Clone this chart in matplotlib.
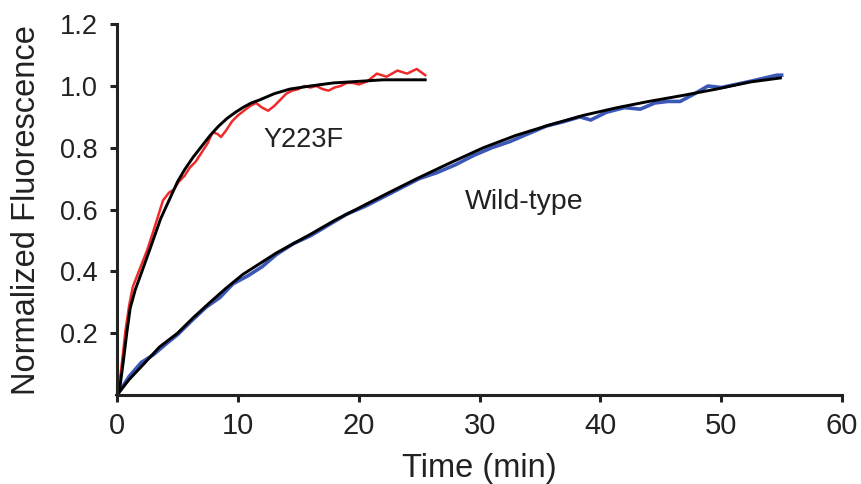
import matplotlib.pyplot as plt

plt.rcParams['font.family'] = ['Liberation Sans', 'DejaVu Sans']

# Y223F mutant, raw trace (min, normalized)
y223f_t = [0, 0.3, 0.5, 0.7, 1.0, 1.3, 1.7, 2.1, 2.5, 3.0, 3.4, 3.8, 4.3, 4.7, 5.1, 5.6,
           6.0, 6.5, 7.0, 7.5, 7.9, 8.3, 8.6, 9.0, 9.5, 10.0, 10.5, 11.0, 11.5, 12.0,
           12.5, 13.0, 13.5, 14.0, 14.5, 15.0, 15.5, 16.0, 16.5, 17.0, 17.5, 18.0,
           18.5, 19.0, 19.5, 20.0, 20.7, 21.5, 22.3, 23.2, 24.0, 24.8, 25.5]
y223f_y = [0, 0.07, 0.14, 0.21, 0.29, 0.35, 0.39, 0.43, 0.47, 0.53, 0.58, 0.63, 0.655, 0.665,
           0.69, 0.71, 0.735, 0.755, 0.785, 0.815, 0.85, 0.845, 0.835, 0.855, 0.885,
           0.905, 0.92, 0.935, 0.945, 0.93, 0.92, 0.935, 0.955, 0.975, 0.985, 0.99, 1.0,
           0.995, 1.0, 0.99, 0.985, 0.995, 1.0, 1.01, 1.01, 1.005, 1.015, 1.04, 1.03,
           1.05, 1.04, 1.055, 1.035]

# Y223F fit
y223f_fit_t = [0, 0.25, 0.52, 0.8, 1.08, 1.5, 2.15, 2.7, 3.6, 4.3, 5.0, 5.6, 6.3, 7.0, 7.7,
               8.4, 9.1, 9.8, 10.4, 11.1, 11.8, 13.0, 14.3, 16.0, 17.9, 20.0, 22.0, 25.5]
y223f_fit_y = [0, 0.03, 0.11, 0.20, 0.28, 0.34, 0.41, 0.47, 0.57, 0.63, 0.69, 0.73, 0.77,
               0.805, 0.84, 0.87, 0.895, 0.915, 0.93, 0.945, 0.955, 0.975, 0.99, 1.0,
               1.01, 1.015, 1.02, 1.02]

# wild-type, raw trace
wt_t = [0, 1.0, 2.0, 3.0, 4.2, 5.0, 6.3, 7.4, 8.5, 9.6, 10.8, 12.0, 13.2, 14.6, 16.0,
        17.5, 19.0, 20.5, 22.0, 23.5, 25.0, 26.5, 28.0, 29.5, 31.0, 32.5, 34.0, 35.5,
        37.0, 38.3, 39.2, 40.5, 42.0, 43.3, 44.5, 45.6, 46.6, 47.8, 48.9, 50.0, 51.2,
        52.4, 53.5, 54.6, 55.0]
wt_y = [0, 0.06, 0.105, 0.13, 0.17, 0.195, 0.245, 0.285, 0.315, 0.36, 0.385, 0.415, 0.455,
        0.49, 0.515, 0.55, 0.585, 0.61, 0.64, 0.67, 0.70, 0.72, 0.745, 0.775, 0.80, 0.82,
        0.845, 0.87, 0.885, 0.90, 0.89, 0.915, 0.93, 0.925, 0.945, 0.95, 0.95, 0.975,
        1.0, 0.995, 1.005, 1.015, 1.025, 1.035, 1.035]

# wild-type fit
wt_fit_t = [0, 1.0, 2.2, 3.5, 5.0, 6.3, 7.7, 9.0, 10.4, 11.8, 13.2, 14.6, 16.0, 18.0, 20.0,
            22.5, 24.8, 27.5, 30.3, 33.0, 35.8, 38.6, 41.4, 44.0, 46.9, 49.6, 52.4, 54.9]
wt_fit_y = [0, 0.05, 0.10, 0.155, 0.20, 0.25, 0.30, 0.345, 0.39, 0.425, 0.46, 0.49, 0.52,
            0.565, 0.605, 0.655, 0.70, 0.75, 0.80, 0.84, 0.874, 0.905, 0.93, 0.95, 0.97,
            0.99, 1.013, 1.026]

xticks = [0, 10, 20, 30, 40, 50, 60]
yticks = [0.2, 0.4, 0.6, 0.8, 1.0, 1.2]

fig = plt.figure(figsize=(8.61, 4.84), dpi=100)
ax = fig.add_axes([0.136, 0.184, 0.842, 0.766])

ax.plot(wt_t, wt_y, color='#3b58b8', lw=2.6, clip_on=False)
ax.plot(y223f_t, y223f_y, color='#ee2a2a', lw=1.8, clip_on=False)
ax.plot(wt_fit_t, wt_fit_y, color='black', lw=2.1, clip_on=False)
ax.plot(y223f_fit_t, y223f_fit_y, color='black', lw=2.1, clip_on=False)

ax.text(12.1, 0.825, 'Y223F', fontsize=19.5, va='center', ha='left', color='#222222')
ax.text(28.8, 0.625, 'Wild-type', fontsize=20.5, va='center', ha='left', color='#222222')

ax.set_xlim(0, 60)
ax.set_ylim(0, 1.2)
ax.set_xticks(xticks)
ax.set_yticks(yticks)
ax.set_yticklabels([f'{v:.1f}' for v in yticks])

for s in ['top', 'right']:
    ax.spines[s].set_visible(False)
for s in ['left', 'bottom']:
    ax.spines[s].set_linewidth(2.2)
    ax.spines[s].set_color('#222222')

ax.tick_params(axis='both', direction='out', length=5, width=2.2, color='#222222',
               labelcolor='#222222')
ax.tick_params(axis='x', labelsize=21, pad=7)
ax.tick_params(axis='y', labelsize=19.5, pad=9)

ax.set_xlabel('Time (min)', fontsize=23.5, color='#222222', labelpad=10)
ax.set_ylabel('Normalized Fluorescence', fontsize=23.5, color='#222222', labelpad=13)

fig.savefig('out.png', dpi=100)
